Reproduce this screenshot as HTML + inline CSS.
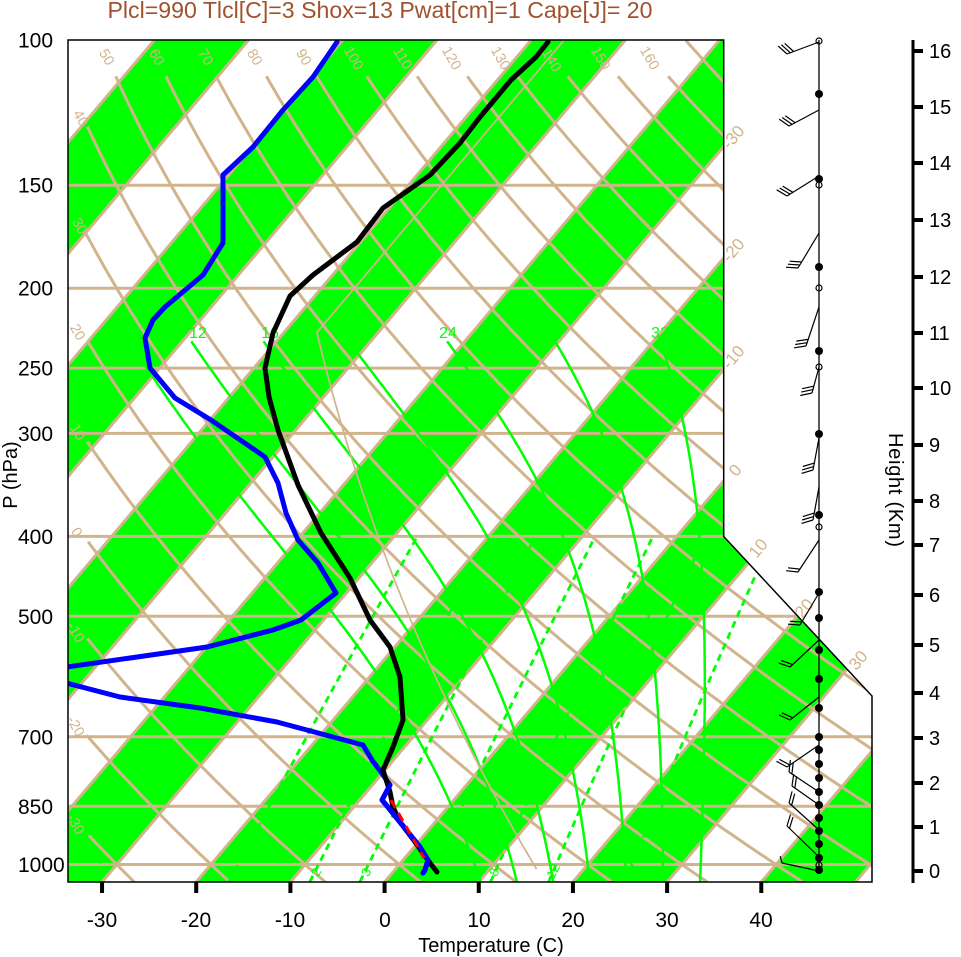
<!DOCTYPE html>
<html><head><meta charset="utf-8">
<style>
html,body{margin:0;padding:0;background:#fff;width:961px;height:957px;overflow:hidden}
svg{display:block}
text{font-family:"Liberation Sans",Arial,sans-serif}
</style></head><body>
<svg id="s" xmlns="http://www.w3.org/2000/svg" width="961" height="957" viewBox="0 0 961 957">
<defs><clipPath id="cp"><polygon points="68,40 723.7,40 723.7,536.5 872,696 872,882 68,882"/></clipPath></defs>
<rect x="0" y="0" width="961" height="957" fill="#fff"/>
<g clip-path="url(#cp)">
<g fill="#00ff00">
<polygon points="-557.2,882 154.49,40 248.67,40 -463.02,882"/>
<polygon points="-368.84,882 342.85,40 437.02,40 -274.67,882"/>
<polygon points="-180.49,882 531.2,40 625.38,40 -86.31,882"/>
<polygon points="7.87,882 719.56,40 813.74,40 102.05,882"/>
<polygon points="196.22,882 907.91,40 1002.09,40 290.4,882"/>
<polygon points="384.58,882 1096.27,40 1190.45,40 478.76,882"/>
<polygon points="572.94,882 1284.63,40 1378.8,40 667.11,882"/>
<polygon points="761.29,882 1472.98,40 1567.16,40 855.47,882"/>
</g>
<g stroke="#d2b48c" stroke-width="3" fill="none">
<path d="M-557.2,882L154.49,40M-463.02,882L248.67,40M-368.84,882L342.85,40M-274.67,882L437.02,40M-180.49,882L531.2,40M-86.31,882L625.38,40M7.87,882L719.56,40M102.05,882L813.74,40M196.22,882L907.91,40M290.4,882L1002.09,40M384.58,882L1096.27,40M478.76,882L1190.45,40M572.94,882L1284.63,40M667.11,882L1378.8,40M761.29,882L1472.98,40M855.47,882L1567.16,40"/>
<path d="M68,185.2H872M68,288.2H872M68,368.1H872M68,433.4H872M68,536.4H872M68,616.3H872M68,736.8H872M68,806.3H872M68,864.5H872"/>
</g>
<g id="dry" stroke="#d2b48c" stroke-width="3" fill="none"></g>
<g id="moist" stroke="#00ff00" stroke-width="2.5" fill="none"></g>
<g id="mix" stroke="#00ff00" stroke-width="2.8" fill="none" stroke-dasharray="7,5"></g>
<g id="std" stroke="#d2b48c" stroke-width="1.7" fill="none"></g>
</g>

<!-- dry adiabat labels -->
<g fill="#d2b48c" font-size="14.5" text-anchor="middle">
<text x="107" y="57" dy="0.35em" transform="rotate(60 107 57)">50</text>
<text x="157" y="57" dy="0.35em" transform="rotate(60 157 57)">60</text>
<text x="206" y="57" dy="0.35em" transform="rotate(60 206 57)">70</text>
<text x="255" y="57" dy="0.35em" transform="rotate(60 255 57)">80</text>
<text x="304" y="57" dy="0.35em" transform="rotate(60 304 57)">90</text>
<text x="354" y="58" dy="0.35em" transform="rotate(60 354 58)">100</text>
<text x="403" y="58" dy="0.35em" transform="rotate(60 403 58)">110</text>
<text x="452" y="58" dy="0.35em" transform="rotate(60 452 58)">120</text>
<text x="501" y="58" dy="0.35em" transform="rotate(60 501 58)">130</text>
<text x="552" y="60" dy="0.35em" transform="rotate(60 552 60)">140</text>
<text x="601" y="58" dy="0.35em" transform="rotate(60 601 58)">150</text>
<text x="650" y="58" dy="0.35em" transform="rotate(60 650 58)">160</text>
<text x="81" y="118" dy="0.35em" transform="rotate(60 81 118)">40</text>
<text x="80" y="226" dy="0.35em" transform="rotate(60 80 226)">30</text>
<text x="78" y="332" dy="0.35em" transform="rotate(60 78 332)">20</text>
<text x="78" y="432" dy="0.35em" transform="rotate(60 78 432)">10</text>
<text x="77" y="532" dy="0.35em" transform="rotate(60 77 532)">0</text>
<text x="76" y="632" dy="0.35em" transform="rotate(60 76 632)">-10</text>
<text x="76" y="726" dy="0.35em" transform="rotate(60 76 726)">-20</text>
<text x="76" y="824" dy="0.35em" transform="rotate(60 76 824)">-30</text>
</g>
<!-- isotherm labels -->
<g fill="#d2b48c" font-size="17" text-anchor="middle">
<text x="733" y="137" dy="0.35em" transform="rotate(-50 733 137)">-30</text>
<text x="733" y="250" dy="0.35em" transform="rotate(-50 733 250)">-20</text>
<text x="733" y="357" dy="0.35em" transform="rotate(-50 733 357)">-10</text>
<text x="735" y="470" dy="0.35em" transform="rotate(-50 735 470)">0</text>
<text x="758" y="548" dy="0.35em" transform="rotate(-50 758 548)">10</text>
<text x="804" y="608" dy="0.35em" transform="rotate(-50 804 608)">20</text>
<text x="858" y="660" dy="0.35em" transform="rotate(-50 858 660)">30</text>
</g>
<!-- moist adiabat labels -->
<g fill="#00ff00" font-size="16" text-anchor="middle">
<text x="134" y="338">8</text>
<text x="198" y="338">12</text>
<text x="270" y="338">16</text>
<text x="350" y="338">20</text>
<text x="448" y="338">24</text>
<text x="553" y="338">28</text>
<text x="660" y="338">32</text>
</g>
<!-- mixing ratio labels -->
<g fill="#00ff00" font-size="13" text-anchor="middle">
<text x="240" y="868" dy="0.35em" transform="rotate(-62 240 868)">1</text>
<text x="316" y="872" dy="0.35em" transform="rotate(-62 316 872)">2</text>
<text x="366" y="872" dy="0.35em" transform="rotate(-62 366 872)">3</text>
<text x="431" y="871" dy="0.35em" transform="rotate(-62 431 871)">5</text>
<text x="494" y="872" dy="0.35em" transform="rotate(-62 494 872)">8</text>
<text x="553" y="871" dy="0.35em" transform="rotate(-62 553 871)">12</text>
<text x="628" y="869" dy="0.35em" transform="rotate(-62 628 869)">20</text>
</g>

<!-- data -->
<g clip-path="url(#cp)" fill="none" stroke-linejoin="round" stroke-linecap="round">
<polyline stroke="#0000ff" stroke-width="5" points="337,42 313,77 283,110 253,147 223,175 223,243 203,275 165,307 153,320 145,338 150,368 175,398 211,420 265,457 278,483 286,513 298,540 318,563 336,593 301,620 273,630 207,647 60,668 40,674 55,680 120,697 200,708 277,722 363,745 372,760 381,772 390,785 382,800 387,806 420,847 428,860 425,870 423,873"/>
<polyline stroke="#000" stroke-width="5" points="548,42 536,57 511,80 480,117 460,143 430,175 383,208 357,242 313,275 290,296 273,333 265,368 269,397 278,430 298,485 321,533 350,578 370,620 390,647 400,677 403,720 393,747 383,770 390,792 393,807 400,822 415,842 430,863 437,872"/>
<polyline stroke="#0000ff" stroke-width="5" points="390,785 382,800 387,806 420,847 428,860 425,870 423,873"/>
<line x1="391" y1="800" x2="424" y2="858" stroke="#ff0000" stroke-width="3" stroke-dasharray="9,6" stroke-linecap="butt"/>
</g>

<!-- frame -->
<polygon points="68,40 723.7,40 723.7,536.5 872,696 872,882 68,882" fill="none" stroke="#000" stroke-width="1.5"/>

<!-- title -->
<text x="380" y="18" font-size="23" fill="#a0522d" text-anchor="middle" textLength="545" lengthAdjust="spacingAndGlyphs">Plcl=990 Tlcl[C]=3 Shox=13 Pwat[cm]=1 Cape[J]= 20</text>

<!-- pressure labels -->
<g font-size="21" fill="#000">
<text x="18" y="47.5">100</text>
<text x="18" y="192.7">150</text>
<text x="18" y="295.7">200</text>
<text x="18" y="375.6">250</text>
<text x="18" y="440.9">300</text>
<text x="18" y="543.9">400</text>
<text x="18" y="623.8">500</text>
<text x="18" y="744.3">700</text>
<text x="18" y="813.8">850</text>
<text x="18" y="872">1000</text>
</g>
<text x="10" y="475" dy="0.35em" font-size="20" text-anchor="middle" transform="rotate(-90 10 475)">P (hPa)</text>

<!-- bottom axis -->
<g stroke="#000" stroke-width="4">
<path d="M102.05,882V893M196.22,882V893M290.4,882V893M384.58,882V893M478.76,882V893M572.94,882V893M667.11,882V893M761.29,882V893"/>
</g>
<g font-size="21" text-anchor="middle" fill="#000">
<text x="102" y="927">-30</text>
<text x="196" y="927">-20</text>
<text x="290" y="927">-10</text>
<text x="385" y="927">0</text>
<text x="479" y="927">10</text>
<text x="573" y="927">20</text>
<text x="667" y="927">30</text>
<text x="761" y="927">40</text>
</g>
<text x="491" y="952" font-size="20" text-anchor="middle">Temperature (C)</text>

<!-- height axis -->
<line x1="913" y1="40" x2="913" y2="883" stroke="#000" stroke-width="3"/>
<g stroke="#000" stroke-width="4">
<path d="M913,51H923M913,107H923M913,163H923M913,220H923M913,277H923M913,333H923M913,388H923M913,445H923M913,501H923M913,545H923M913,595H923M913,645H923M913,693H923M913,738H923M913,783H923M913,827H923M913,871H923"/>
</g>
<g font-size="20" fill="#000">
<text x="929" y="58">16</text>
<text x="929" y="114">15</text>
<text x="929" y="170">14</text>
<text x="929" y="227">13</text>
<text x="929" y="284">12</text>
<text x="929" y="340">11</text>
<text x="929" y="395">10</text>
<text x="929" y="452">9</text>
<text x="929" y="508">8</text>
<text x="929" y="552">7</text>
<text x="929" y="602">6</text>
<text x="929" y="652">5</text>
<text x="929" y="700">4</text>
<text x="929" y="745">3</text>
<text x="929" y="790">2</text>
<text x="929" y="834">1</text>
<text x="929" y="878">0</text>
</g>
<text x="896" y="490" dy="0.35em" font-size="20" text-anchor="middle" textLength="114" transform="rotate(90 896 490)">Height (Km)</text>

<!-- wind column -->
<line x1="819" y1="40" x2="819" y2="871" stroke="#000" stroke-width="1.3"/>
<g id="barbs" stroke="#000" stroke-width="1.2" fill="none"></g>
<g fill="#000">
<circle cx="819" cy="94" r="4"/><circle cx="819" cy="179" r="4"/><circle cx="819" cy="267" r="4"/><circle cx="819" cy="351" r="4"/><circle cx="819" cy="434" r="4"/><circle cx="819" cy="515" r="4"/><circle cx="819" cy="592" r="4"/><circle cx="819" cy="618" r="4"/><circle cx="819" cy="650" r="4"/><circle cx="819" cy="679" r="4"/><circle cx="819" cy="708" r="4"/><circle cx="819" cy="737" r="4"/><circle cx="819" cy="750" r="4"/><circle cx="819" cy="764" r="4"/><circle cx="819" cy="778" r="4"/><circle cx="819" cy="792" r="4"/><circle cx="819" cy="805" r="4"/><circle cx="819" cy="818" r="4"/><circle cx="819" cy="831" r="4"/><circle cx="819" cy="844" r="4"/><circle cx="819" cy="858" r="4"/><circle cx="819" cy="870" r="4"/>
</g>
<g fill="none" stroke="#000" stroke-width="1.2">
<circle cx="819" cy="41" r="3"/><circle cx="819" cy="185" r="3"/><circle cx="819" cy="288" r="3"/><circle cx="819" cy="367" r="3"/><circle cx="819" cy="527" r="3"/><circle cx="819" cy="865" r="3"/>
</g>
</svg>
<script>
(function(){
try{
var NS="http://www.w3.org/2000/svg";
var sx=804/46.1, sy=842/(44.061+0.9346217);
function Yp(p){return 132.182-44.061*Math.log(p)/Math.LN10;}
function PX(T,p){return 68+(0.54*T+0.90692*Yp(p)+19)*sx;}
function PY(p){return 882-(Yp(p)+0.9346217)*sy;}
function add(id,pts){
  if(pts.length<2)return;
  var e=document.createElementNS(NS,"polyline");
  e.setAttribute("points",pts.map(function(a){return a[0].toFixed(1)+","+a[1].toFixed(1);}).join(" "));
  document.getElementById(id).appendChild(e);
}
var lp,p,T,x,y,pts,i;
for(var th=-30;th<=170;th+=10){
  var pend=th>=170?100:110; pts=[];
  for(lp=Math.log(1050);lp>=Math.log(pend)-1e-9;lp-=0.01){
    p=Math.exp(lp); T=(th+273.15)*Math.pow(p/1000,0.2857)-273.15;
    x=PX(T,p); y=PY(p); if(x<86)break; pts.push([x,y]);
  }
  add("dry",pts);
}
function es(Tc){return 6.112*Math.exp(17.67*Tc/(Tc+243.5));}
function the(TK,p){var e=es(TK-273.15);var r=622*e/(p-e);return TK*Math.pow(1000/p,0.2854*(1-0.00028*r))*Math.exp((3.376/TK-0.00254)*r*(1+0.00081*r));}
[8,12,16,20,24,28,32].forEach(function(tw){
  var te=the(tw+273.15,1000); var pts=[];
  for(var lp=Math.log(1050);lp>=Math.log(230)-1e-9;lp-=0.01){
    var p=Math.exp(lp),lo=150,hi=330;
    for(var k=0;k<40;k++){var m=(lo+hi)/2; if(the(m,p)>te)hi=m; else lo=m;}
    var T=(lo+hi)/2-273.15; pts.push([PX(T,p),PY(p)]);
  }
  add("moist",pts);
});
[1,2,3,5,8,12,20].forEach(function(w){
  var pts=[];
  for(var lp=Math.log(1050);lp>=Math.log(400)-1e-9;lp-=0.01){
    var p=Math.exp(lp); var e=w*p/(622+w); var l=Math.log(e/6.112); var Td=243.5*l/(17.67-l);
    pts.push([PX(Td,p),PY(p)]);
  }
  add("mix",pts);
});
pts=[];
for(lp=Math.log(1013.25);lp>=Math.log(226.32);lp-=0.01){
  p=Math.exp(lp); T=288.15*Math.pow(p/1013.25,0.190263)-273.15; pts.push([PX(T,p),PY(p)]);
}
pts.push([PX(-56.5,226.32),PY(226.32)]);
pts.push([PX(-56.5,100),PY(100)]);
add("std",pts);
var barbs=[[42,787,54,3],[110,789,126,3],[176,787,196,3],[233,798,268,3],[307,806,346,3],[367,812,393,3],[438,813,470,3],[487,813,520,3],[540,798,572,2],[593,800,625,2],[640,790,667,2],[697,790,720,2],[745,787,767,2],[792,789,772,2],[805,792,786,2],[830,789,803,2],[857,787,826,2],[871,782,863,1]];
var c=Math.cos(63*Math.PI/180), s=Math.sin(63*Math.PI/180);
var d="";
barbs.forEach(function(b){
  var bx=819,by=b[0],tx=b[1],ty=b[2],n=b[3];
  var dx=tx-bx,dy=ty-by,L=Math.sqrt(dx*dx+dy*dy),ux=dx/L,uy=dy/L;
  var fx=ux*c-uy*s, fy=ux*s+uy*c;
  d+="M"+bx+","+by+"L"+tx+","+ty;
  var fl=(n==1)?7:12;
  for(var k=0;k<n;k++){
    var sx0=tx-k*3.5*ux, sy0=ty-k*3.5*uy;
    d+="M"+sx0.toFixed(1)+","+sy0.toFixed(1)+"L"+(sx0+fl*fx).toFixed(1)+","+(sy0+fl*fy).toFixed(1);
  }
});
var pe=document.createElementNS(NS,"path"); pe.setAttribute("d",d);
document.getElementById("barbs").appendChild(pe);
}catch(err){}
})();
</script>
</body></html>
